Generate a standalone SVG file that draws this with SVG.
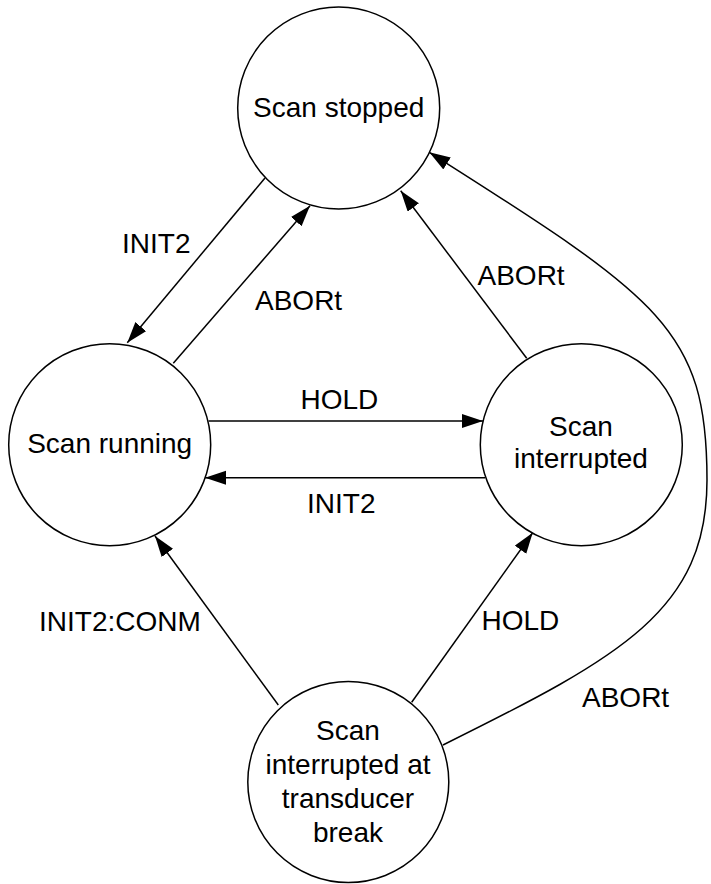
<svg xmlns="http://www.w3.org/2000/svg" width="711" height="884" viewBox="0 0 711 884">
<style>
.n{fill:#fff;stroke:#000;stroke-width:1.5}
.t{font-family:"Liberation Sans",Arial,sans-serif;font-size:28px;fill:#000}
.c{text-anchor:middle}
.e{fill:none;stroke:#000;stroke-width:1.5}
</style>
<defs>
<marker id="ah" markerUnits="userSpaceOnUse" markerWidth="22" markerHeight="15" refX="21" refY="7" orient="auto">
<path d="M0,0 L21,7 L0,14 z" fill="#000"/>
</marker>
</defs>
<rect width="711" height="884" fill="#fff"/>
<g id="edges">
<line class="e" x1="265" y1="178" x2="127.3" y2="342.7" marker-end="url(#ah)"/>
<line class="e" x1="173.3" y1="363.3" x2="310" y2="205.7" marker-end="url(#ah)"/>
<line class="e" x1="208.5" y1="421" x2="483" y2="421" marker-end="url(#ah)"/>
<line class="e" x1="485" y1="477.7" x2="205" y2="477.7" marker-end="url(#ah)"/>
<line class="e" x1="526.7" y1="358.3" x2="400.7" y2="190.7" marker-end="url(#ah)"/>
<line class="e" x1="278.3" y1="705" x2="155" y2="536" marker-end="url(#ah)"/>
<line class="e" x1="411.7" y1="702.3" x2="532.7" y2="532.7" marker-end="url(#ah)"/>
<path class="e" d="M443,745 C622,656.4 707,610 707,480 C707,330 661,299 429.3,152.3" marker-end="url(#ah)"/>
<text class="t" x="122" y="252.7">INIT2</text>
<text class="t" x="255" y="310">ABORt</text>
<text class="t" x="300.5" y="409.3">HOLD</text>
<text class="t" x="307" y="512.7">INIT2</text>
<text class="t" x="477.5" y="285">ABORt</text>
<text class="t" x="39" y="630.7">INIT2:CONM</text>
<text class="t" x="481.5" y="630">HOLD</text>
<text class="t" x="582" y="707.3">ABORt</text>
</g>
<g id="stopped">
<circle class="n" cx="338.7" cy="108" r="101"/>
<text class="t c" x="338.7" y="117">Scan stopped</text>
</g>
<g id="running">
<circle class="n" cx="109.7" cy="444.7" r="101"/>
<text class="t c" x="109.7" y="453.3">Scan running</text>
</g>
<g id="interrupted">
<circle class="n" cx="581.3" cy="444.7" r="101"/>
<text class="t c" x="581" y="436">Scan</text>
<text class="t c" x="581" y="468.3">interrupted</text>
</g>
<g id="transducer">
<circle class="n" cx="348.3" cy="782" r="100.5"/>
<text class="t c" x="348" y="740">Scan</text>
<text class="t c" x="348" y="774">interrupted at</text>
<text class="t c" x="348" y="808">transducer</text>
<text class="t c" x="348" y="842">break</text>
</g>
</svg>
